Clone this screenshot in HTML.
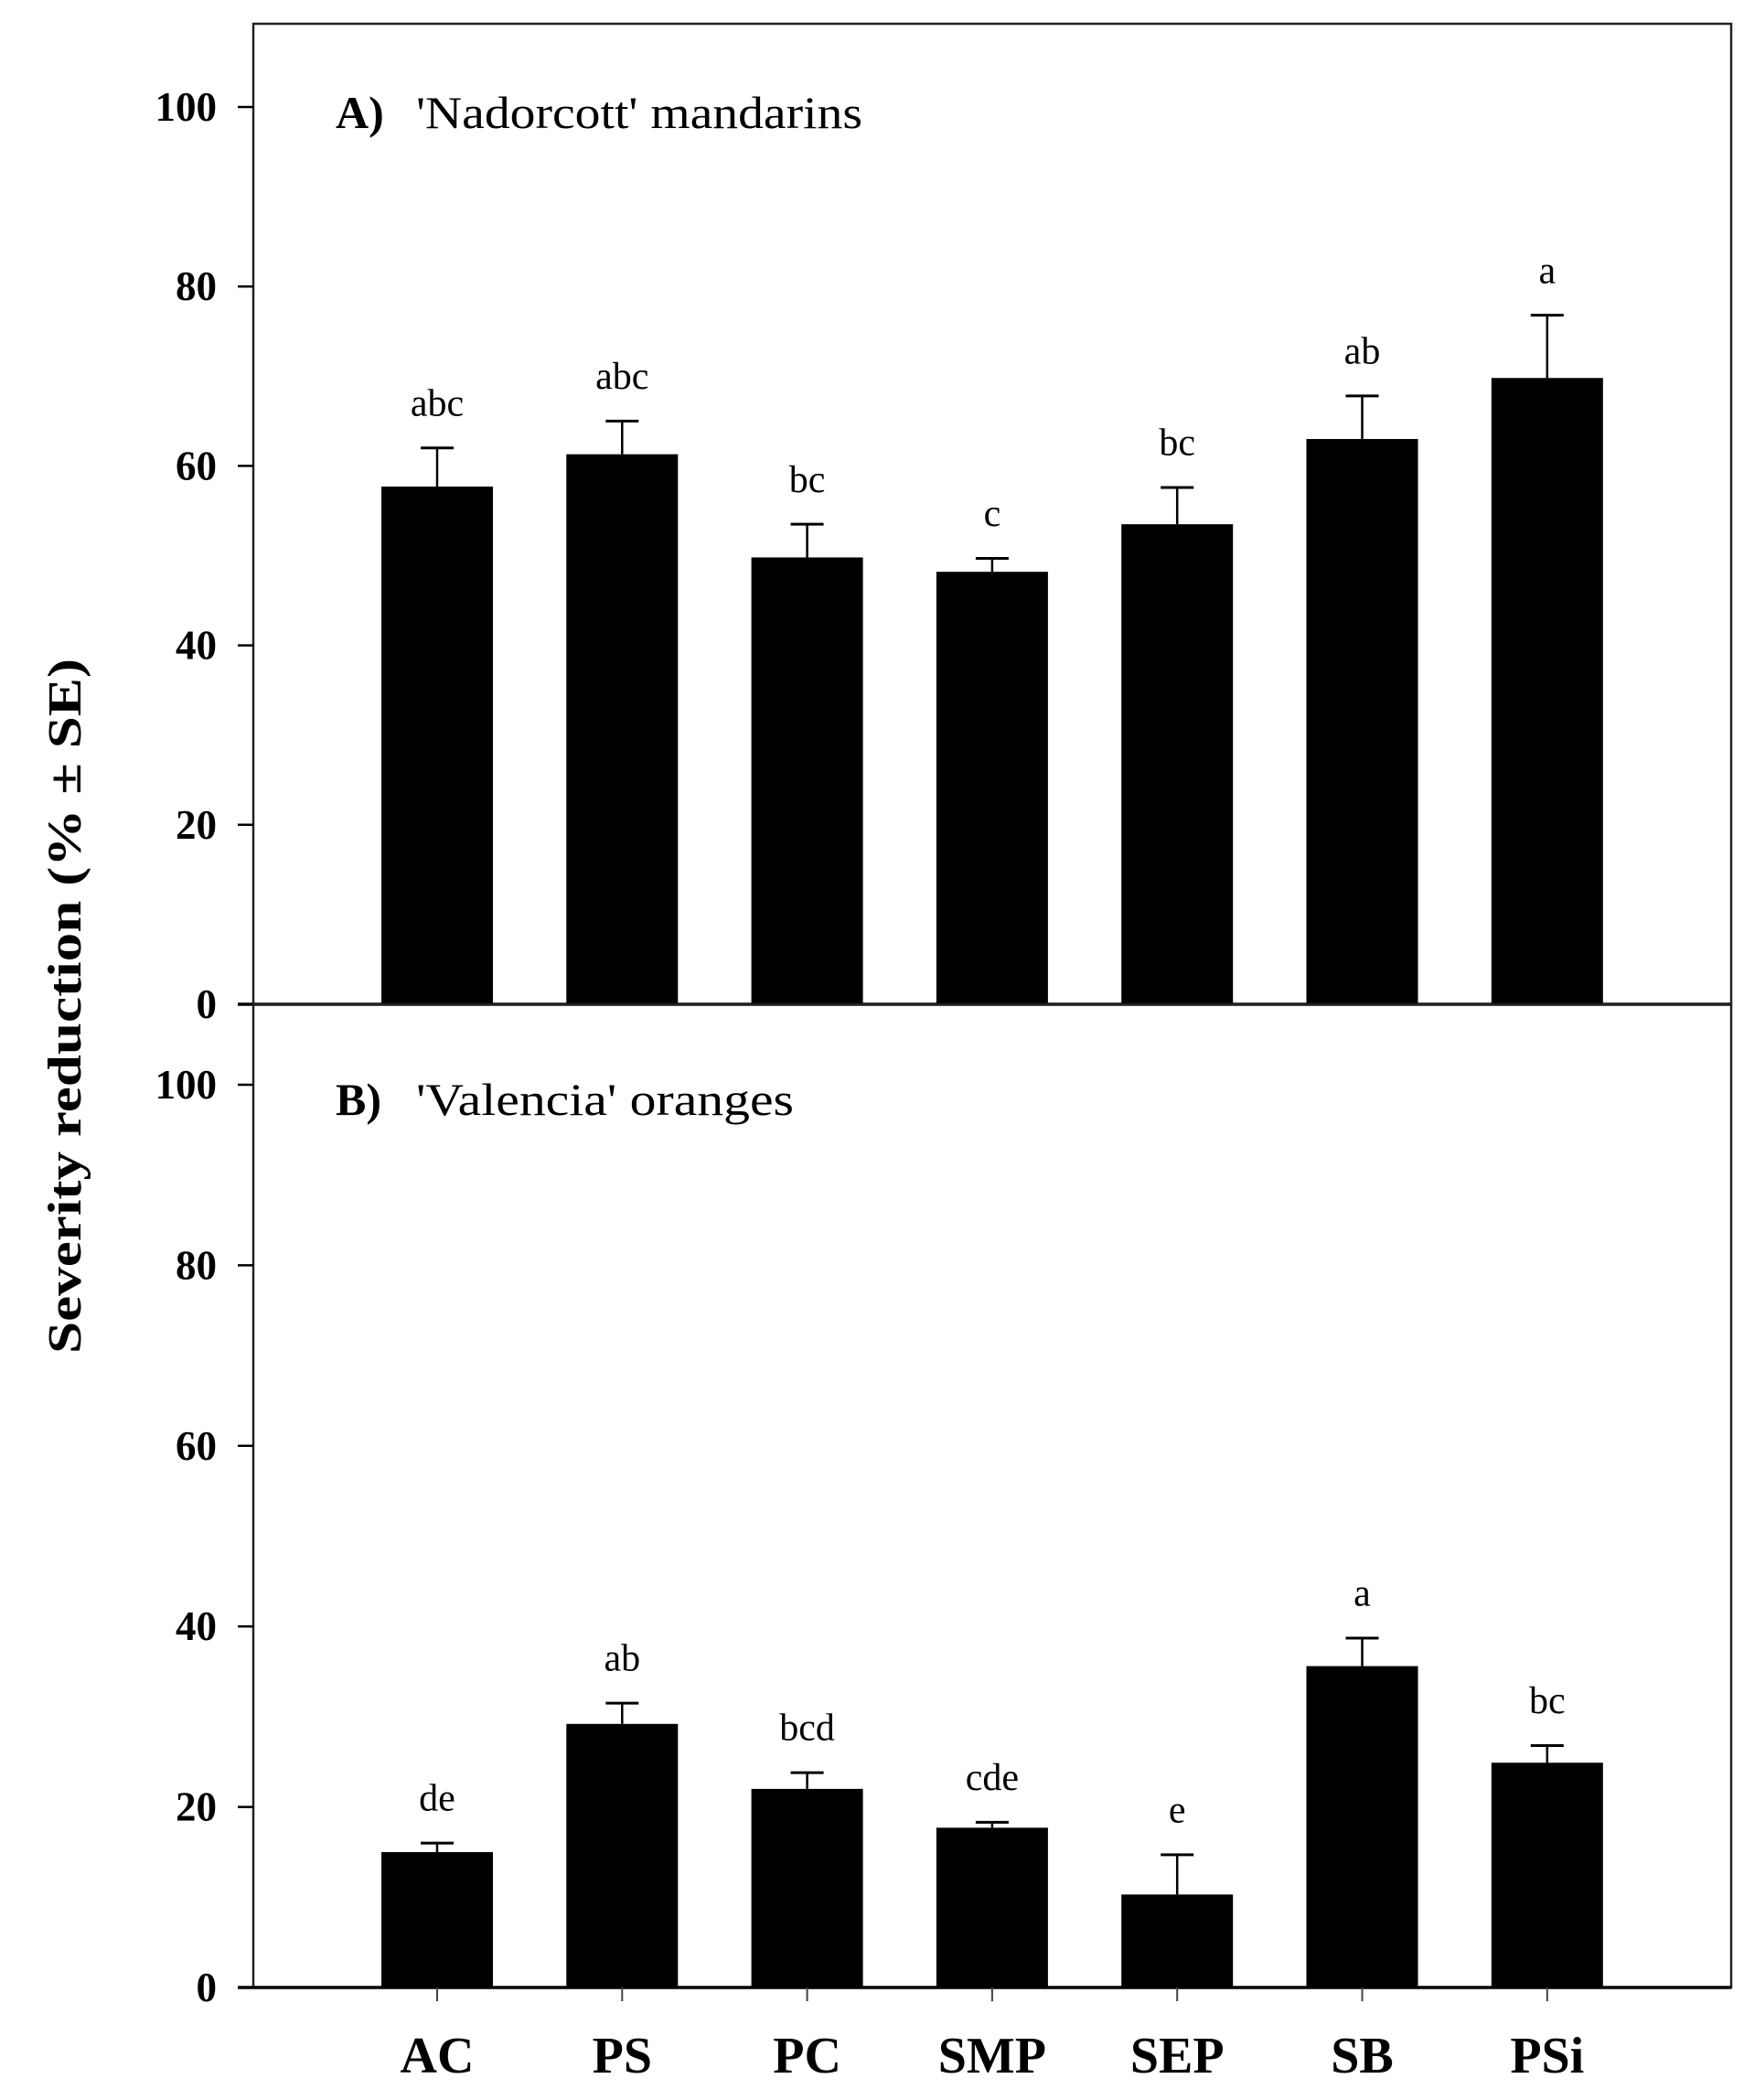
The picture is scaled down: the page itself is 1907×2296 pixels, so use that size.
<!DOCTYPE html>
<html><head><meta charset="utf-8"><style>
html,body{margin:0;padding:0;background:#fff;}
svg{display:block;}
text{font-family:"Liberation Serif",serif;fill:#000;}
</style></head><body>
<svg id="chart" width="1907" height="2296" viewBox="0 0 1907 2296" xmlns="http://www.w3.org/2000/svg">
<text transform="translate(88,1100) rotate(-90)" text-anchor="middle" font-size="52" font-weight="bold" textLength="760" lengthAdjust="spacingAndGlyphs">Severity reduction (% ± SE)</text>
</svg>
<script>
const categories = ["AC","PS","PC","SMP","SEP","SB","PSi"];
const valuesA = [57.7, 61.3, 49.8, 48.2, 53.5, 63.0, 69.8];
const errorsA = [4.3, 3.7, 3.7, 1.5, 4.1, 4.8, 7.0];
const lettersA = ["abc","abc","bc","c","bc","ab","a"];
const valuesB = [15.0, 29.2, 22.0, 17.7, 10.3, 35.6, 24.9];
const errorsB = [1.0, 2.3, 1.8, 0.6, 4.4, 3.1, 1.9];
const lettersB = ["de","ab","bcd","cde","e","a","bc"];
const yTicks = [0, 20, 40, 60, 80, 100];

const svg = document.getElementById('chart');
const NS = 'http://www.w3.org/2000/svg';
const left = 277, right = 1893;
function xc(i){ return 478 + i * 202.3; }
function mk(tag, attrs){ const e = document.createElementNS(NS, tag); for (const k in attrs) e.setAttribute(k, attrs[k]); svg.appendChild(e); return e; }

function panel(p, zeroY, hundredY, vals, errs, letters, top, title1, title2, titleY, titleLen){
  const y = v => zeroY + (hundredY - zeroY) * v / 100;
  const f = mk('rect', {x:left, y:top, width:right-left, height:zeroY-top, fill:'none', stroke:'#222', 'stroke-width':2.5});
  
  
  const z = mk('line', {x1:260, x2:right, y1:zeroY, y2:zeroY, stroke:'#000', 'stroke-width':3.5});
  
  
  yTicks.forEach(t => {
    const ty = y(t);
    const tl = mk('line', {x1:260, x2:left, y1:ty, y2:ty, stroke:'#000', 'stroke-width':2.5});
    
    
    const tx = mk('text', {x:237, y:ty + 15, 'text-anchor':'end', 'font-size':45, 'font-weight':'bold'});
    tx.textContent = t;
    
    
  });
  vals.forEach((v, i) => {
    const cx = xc(i);
    const b = mk('rect', {x:cx - 61, y:y(v), width:122, height:zeroY - y(v), fill:'#000'});
    
    
    const et = y(v + errs[i]);
    const e1 = mk('line', {x1:cx, x2:cx, y1:y(v), y2:et, stroke:'#000', 'stroke-width':2.5});
    
    
    const e2 = mk('line', {x1:cx - 18, x2:cx + 18, y1:et, y2:et, stroke:'#000', 'stroke-width':3});
    
    
    const lt = mk('text', {x:cx, y:y(v + errs[i] + 3.6), 'text-anchor':'middle', 'font-size':42});
    lt.textContent = letters[i];
    
    
  });
  const t1 = mk('text', {x:367, y:titleY, 'font-size':50, 'font-weight':'bold'});
  t1.textContent = title1;
  
  
  const t2 = mk('text', {x:455, y:titleY, 'font-size':50, textLength:titleLen, lengthAdjust:'spacingAndGlyphs'});
  t2.textContent = title2;
  
  
}
panel('a', 1098, 117, valuesA, errorsA, lettersA, 26, "A)", "'Nadorcott' mandarins", 140, 488);
panel('b', 2173, 1186, valuesB, errorsB, lettersB, 1098, "B)", "'Valencia' oranges", 1219, 413);

categories.forEach((c, i) => {
  const cx = xc(i);
  const tk = mk('line', {x1:cx, x2:cx, y1:2173, y2:2188, stroke:'#444', 'stroke-width':2});
  
  
  const t = mk('text', {x:cx, y:2266, 'text-anchor':'middle', 'font-size':56, 'font-weight':'bold'});
  t.textContent = c;
  
  
});
</script>
</body></html>
